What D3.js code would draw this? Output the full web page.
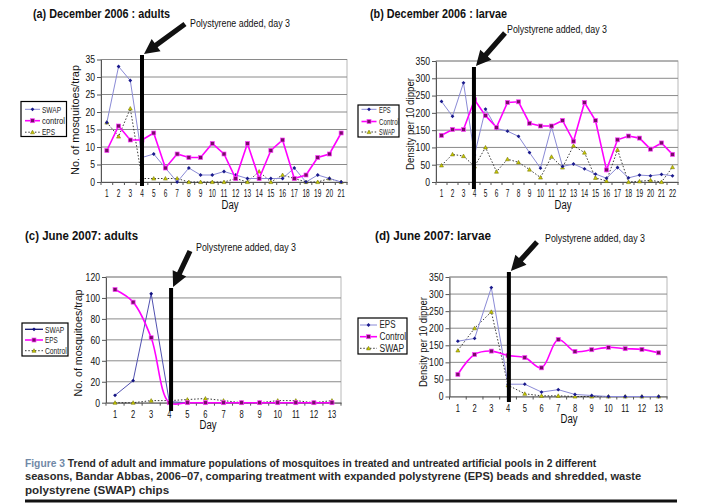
<!DOCTYPE html>
<html><head><meta charset="utf-8">
<script src="https://cdn.jsdelivr.net/npm/d3@7/dist/d3.min.js"></script>
<style>
body{margin:0;background:#fff;}
svg{display:block;}
text{font-family:"Liberation Sans",Arial,sans-serif;}
</style></head>
<body>
<svg id="chart" width="701" height="504"></svg>
<script>
// ---------- DATA ----------
const daysA = [1,2,3,4,5,6,7,8,9,10,11,12,13,14,15,16,17,18,19,20,21];
const aSWAP    = [17,33,29,7,8,4,0,4,2,2,3,2,1,1,1,1,4,0,2,1,0];
const aControl = [9,16,12,12,14,4,8,7,7,11,8,1,11,1,9,12,1,2,7,8,14];
const aEPS     = [17,13,21,1,1,1,1,0,0,0,0,1,0,3,0,2,1,0,0,1,0];
const aTicks   = [0,5,10,15,20,25,30,35];

const daysB = [1,2,3,4,5,6,7,8,9,10,11,12,13,14,15,16,17,18,19,20,21,22];
const bEPS     = [233,190,287,78,211,155,147,132,85,40,160,45,52,38,23,11,42,12,20,18,22,18];
const bControl = [135,152,152,238,192,158,230,232,170,162,162,178,118,230,178,35,122,133,127,95,113,80];
const bSWAP    = [48,80,75,45,100,30,66,57,36,13,73,42,105,85,12,3,93,0,2,5,0,43];
const bTicks   = [0,50,100,150,200,250,300,350];

const daysC = [1,2,3,4,5,6,7,8,9,10,11,12,13];
const cSWAP    = [7,21,104,1,0,0,0,0,0,0,0,0,0];
const cEPS     = [108,96,62,0,0,0,0,0,0,0,0,0,0];
const cControl = [0,0,2,2,3,4,2,0,0,2,2,0,2];
const cTicks   = [0,20,40,60,80,100,120];

const daysD = [1,2,3,4,5,6,7,8,9,10,11,12,13];
const dEPS     = [162,170,319,36,36,13,20,6,3,0,0,0,0];
const dControl = [65,123,133,120,114,84,167,132,137,144,140,138,128];
const dSWAP    = [135,200,248,33,8,2,2,0,0,0,0,0,0];
const dTicks   = [0,50,100,150,200,250,300,350];

const titles = ["(a) December 2006 : adults","(b) December 2006 : larvae","(c) June 2007: adults","(d) June 2007: larvae"];
const noteText = "Polystyrene added, day 3";
const captionLabel = "Figure 3";
const captionLines = [
  " Trend of adult and immature populations of mosquitoes in treated and untreated artificial pools in 2 different",
  "seasons, Bandar Abbas, 2006\u201307, comparing treatment with expanded polystyrene (EPS) beads and shredded, waste",
  "polystyrene (SWAP) chips"
];

// ---------- STYLES ----------
const STY = {
  blue:   {line:"#8a8ad6", width:1, dash:null, marker:"diamond", mfill:"#1a1a8c", mstroke:"#1a1a8c"},
  navy:   {line:"#5050b0", width:1, dash:null, marker:"diamond", mfill:"#101080", mstroke:"#101080"},
  mag:    {line:"#ff00ff", width:1.6, dash:null, marker:"square", mfill:"#7a0a6a", mstroke:"#ff40ff"},
  dot:    {line:"#222", width:0.9, dash:"1.5,1.8", marker:"triangle", mfill:"#c8c800", mstroke:"#6a6a00"}
};

const panels = [
  {title:titles[0], tx:33, ty:18, tlen:137,
   days:daysA, ticks:aTicks, ymax:35, xsq:0.62,
   left:101, right:347, top:59.5, bottom:182,
   series:[{name:"SWAP",v:aSWAP,s:"blue"},{name:"control",v:aControl,s:"mag"},{name:"EPS",v:aEPS,s:"dot"}],
   mark:3.5, lineTop:55, lineBot:186, tail:[185,24], note:[190,27],
   ytitle:"No. of mosquitoes/trap", ytx:75, yty:120, ytlen:110, dayX:230,
   leg:{x:21,y:101.5,w:45.5,h:35,rows:[109.3,120.7,132.2],sx0:25,sx1:40,tx:42,fs:9,tl:[19,23,13]}},
  {title:titles[1], tx:370, ty:18, tlen:137,
   days:daysB, ticks:bTicks, ymax:350, xsq:0.62,
   left:436, right:678, top:61, bottom:182,
   series:[{name:"EPS",v:bEPS,s:"blue"},{name:"Control",v:bControl,s:"mag"},{name:"SWAP",v:bSWAP,s:"dot"}],
   mark:3.45, lineTop:67, lineBot:189, tail:[505,33], note:[507,33],
   ytitle:"Density per 10 dipper", ytx:410, yty:124, ytlen:92, dayX:563,
   leg:{x:358,y:105,w:41,h:32,rows:[109.3,121.5,132],sx0:361.5,sx1:376.5,tx:379,fs:8.5,tl:[11.7,20,16]}},
  {title:titles[2], tx:25, ty:240, tlen:113,
   days:daysC, ticks:cTicks, ymax:120, xsq:0.72,
   left:106, right:341, top:277, bottom:402.7,
   series:[{name:"SWAP",v:cSWAP,s:"navy"},{name:"EPS",v:cEPS,s:"mag",smooth:true},{name:"Control",v:cControl,s:"dot"}],
   mark:3.6, lineTop:288, lineBot:411, tail:[190,251], note:[196,251],
   ytitle:"No. of mosquitoes/trap", ytx:78, yty:343, ytlen:107, dayX:208,
   leg:{x:22,y:323,w:46,h:33,rows:[329.3,340,350.7],sx0:25,sx1:43,tx:45,fs:9,tl:[19.3,12.7,21.7]}},
  {title:titles[3], tx:375, ty:240, tlen:116,
   days:daysD, ticks:dTicks, ymax:350, xsq:0.72,
   left:449.5, right:667, top:277, bottom:396.5,
   series:[{name:"EPS",v:dEPS,s:"blue"},{name:"Control",v:dControl,s:"mag",smooth:true},{name:"SWAP",v:dSWAP,s:"dot"}],
   mark:3.55, lineTop:272, lineBot:402, tail:[537,242], note:[545,242],
   ytitle:"Density per 10 dipper", ytx:423, yty:342, ytlen:90, dayX:569,
   leg:{x:358,y:318,w:49,h:36,rows:[325,336.7,348.3],sx0:360,sx1:377,tx:379.5,fs:10,tl:[16,26.7,24.7]}}
];

const svg = d3.select("#chart");

function squeeze(sel, f){
  sel.each(function(){
    const w = this.getComputedTextLength();
    d3.select(this).attr("textLength", w*f).attr("lengthAdjust","spacingAndGlyphs");
  });
}

function drawMarker(g, type, cx, cy, st, size){
  if(type==="square"){
    g.append("rect").attr("x",cx-size/2).attr("y",cy-size/2).attr("width",size).attr("height",size)
      .attr("fill",st.mfill).attr("stroke",st.mstroke).attr("stroke-width",0.7);
  } else if(type==="diamond"){
    const r=size/2+0.4;
    g.append("path").attr("d",`M${cx},${cy-r}L${cx+r},${cy}L${cx},${cy+r}L${cx-r},${cy}Z`)
      .attr("fill",st.mfill).attr("stroke","none");
  } else {
    const r=size/2+0.5;
    g.append("path").attr("d",`M${cx},${cy-r}L${cx+r},${cy+r*0.8}L${cx-r},${cy+r*0.8}Z`)
      .attr("fill",st.mfill).attr("stroke",st.mstroke).attr("stroke-width",0.5);
  }
}

panels.forEach(p=>{
  const g = svg.append("g");
  const x = d3.scaleBand().domain(p.days).range([p.left,p.right]);
  const step = x.step();
  const xc = d => x(d)+x.bandwidth()/2;
  const y = d3.scaleLinear().domain([0,p.ymax]).range([p.bottom,p.top]);

  // title
  g.append("text").attr("x",p.tx).attr("y",p.ty).text(p.title)
    .attr("font-family","Lato, 'Open Sans', sans-serif").attr("font-weight",700).attr("font-size",12.5)
    .attr("fill","#111").attr("textLength",p.tlen).attr("lengthAdjust","spacingAndGlyphs");

  // plot frame (light)
  g.append("rect").attr("x",p.left).attr("y",p.top).attr("width",p.right-p.left).attr("height",p.bottom-p.top)
    .attr("fill","none").attr("stroke","#b8b8b8").attr("stroke-width",1);

  // gridlines
  g.append("g").selectAll("line").data(p.ticks.filter(t=>t>0)).join("line")
    .attr("x1",p.left).attr("x2",p.right).attr("y1",d=>y(d)).attr("y2",d=>y(d))
    .attr("stroke","#8a8a8a").attr("stroke-width",1);

  // y axis
  const ya = d3.axisLeft(y).tickValues(p.ticks).tickSize(4).tickPadding(2).tickSizeOuter(0);
  const yg = g.append("g").attr("transform",`translate(${p.left},0)`).call(ya);
  yg.select(".domain").attr("stroke","#555");
  yg.selectAll(".tick line").attr("stroke","#555");
  yg.selectAll("text").attr("font-size",10.5).attr("fill","#111").attr("font-family","'Liberation Sans',Arial,sans-serif");
  squeeze(yg.selectAll("text"), 0.82);

  // x axis
  const xa = d3.axisBottom(x).tickSize(0).tickPadding(0);
  const xg = g.append("g").attr("transform",`translate(0,${p.bottom})`).call(xa);
  xg.select(".domain").attr("stroke","#555");
  xg.selectAll("text").attr("font-size",10.5).attr("fill","#111").attr("dy",0).attr("y",15)
    .attr("font-family","'Liberation Sans',Arial,sans-serif");
  squeeze(xg.selectAll("text"), p.xsq);
  // category separator ticks
  g.append("g").selectAll("line").data(p.days).join("line")
    .attr("x1",d=>x(d)).attr("x2",d=>x(d)).attr("y1",p.bottom).attr("y2",p.bottom+3)
    .attr("stroke","#555");
  g.append("line").attr("x1",p.right).attr("x2",p.right).attr("y1",p.bottom).attr("y2",p.bottom+3).attr("stroke","#555");

  // axis titles
  g.append("text").attr("x",p.dayX).attr("y",p.bottom+26.5).attr("text-anchor","middle")
    .attr("font-size",12).attr("fill","#111").attr("textLength",17).attr("lengthAdjust","spacingAndGlyphs").text("Day");
  g.append("text").attr("transform",`translate(${p.ytx+4},${p.yty}) rotate(-90)`).attr("text-anchor","middle")
    .attr("font-size",11.5).attr("fill","#111").attr("textLength",p.ytlen).attr("lengthAdjust","spacingAndGlyphs")
    .text(p.ytitle);

  // series
  const order = [2,0,1];
  order.forEach(i=>{
    const s = p.series[i]; const st = STY[s.s];
    const line = d3.line().x((d,k)=>xc(p.days[k])).y(d=>y(d));
    if(s.smooth) line.curve(d3.curveCatmullRom.alpha(0.5));
    g.append("path").datum(s.v).attr("d",line).attr("fill","none")
      .attr("stroke",st.line).attr("stroke-width",st.width).attr("stroke-dasharray",st.dash);
    const mg = g.append("g");
    s.v.forEach((v,k)=>drawMarker(mg, st.marker, xc(p.days[k]), y(v), st, st.marker==="square"?4:3));
  });

  // treatment line
  const mx = p.left + p.mark*step;
  g.append("line").attr("x1",mx).attr("x2",mx).attr("y1",p.lineTop).attr("y2",p.lineBot)
    .attr("stroke","#000").attr("stroke-width",4);

  // arrow
  const tip=[mx+2,p.lineTop-1], tail=p.tail;
  const dx=tip[0]-tail[0], dy=tip[1]-tail[1], L=Math.hypot(dx,dy);
  const ux=dx/L, uy=dy/L, nx=-uy, ny=ux;
  const hl=15, hw=7.5, sw=2.6;
  const bx=tip[0]-ux*hl, by=tip[1]-uy*hl;
  const pts=[[tail[0]+nx*sw,tail[1]+ny*sw],[bx+nx*sw,by+ny*sw],[bx+nx*hw,by+ny*hw],tip,
             [bx-nx*hw,by-ny*hw],[bx-nx*sw,by-ny*sw],[tail[0]-nx*sw,tail[1]-ny*sw]];
  g.append("path").attr("d","M"+pts.map(q=>q.join(",")).join("L")+"Z").attr("fill","#111");
  g.append("text").attr("x",p.note[0]).attr("y",p.note[1]).text(noteText)
    .attr("font-family","'Open Sans',sans-serif").attr("font-size",11.5).attr("fill","#111")
    .attr("textLength",100).attr("lengthAdjust","spacingAndGlyphs");

  // legend
  const lg = p.leg;
  g.append("rect").attr("x",lg.x).attr("y",lg.y).attr("width",lg.w).attr("height",lg.h)
    .attr("fill","#fff").attr("stroke","#000").attr("stroke-width",1.2);
  p.series.forEach((s,i)=>{
    const st=STY[s.s]; const ry=lg.rows[i];
    g.append("line").attr("x1",lg.sx0).attr("x2",lg.sx1).attr("y1",ry).attr("y2",ry)
      .attr("stroke",s.s==="navy"?"#101070":st.line).attr("stroke-width",s.s==="navy"?1.3:st.width).attr("stroke-dasharray",st.dash);
    drawMarker(g, st.marker, (lg.sx0+lg.sx1)/2, ry, st, st.marker==="square"?4:3);
    g.append("text").attr("x",lg.tx).attr("y",ry+3.2).attr("font-size",lg.fs).attr("fill","#222")
      .attr("textLength",lg.tl[i]).attr("lengthAdjust","spacingAndGlyphs").text(s.name);
  });
});

// caption: scaled horizontally by transform so boxes stay true
const cap = svg.append("g");
const capBase=[466.5,480,493.5];
const capTarget=[572,617];
const capTexts = captionLines.map((ln,i)=>{
  const t = cap.append("text").attr("x",0).attr("y",0)
    .attr("font-family","'Open Sans',sans-serif").attr("font-weight",600).attr("font-size",11.5);
  if(i===0) t.append("tspan").attr("fill","#7088a6").text(captionLabel);
  t.append("tspan").attr("fill","#2a2a2a").text(ln);
  return t;
});
const sc0 = capTarget[0]/capTexts[0].node().getComputedTextLength();
const sc1 = capTarget[1]/capTexts[1].node().getComputedTextLength();
const scs = [sc0, sc1, sc1*1.05];
capTexts.forEach((t,i)=>t.attr("transform",`translate(25,${capBase[i]}) scale(${scs[i]},1)`));
cap.append("rect").attr("x",25).attr("y",499.5).attr("width",652).attr("height",3).attr("fill","#111");
</script>
</body></html>
